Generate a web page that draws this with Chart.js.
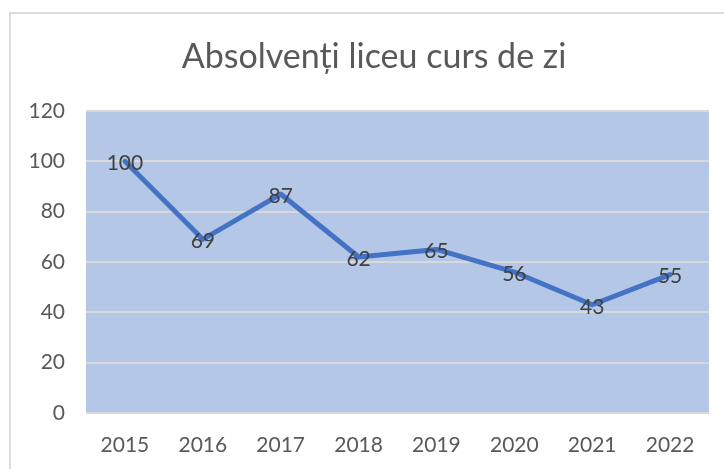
<!DOCTYPE html>
<html><head><meta charset="utf-8">
<script src="https://cdn.jsdelivr.net/npm/chart.js@4.4.0/dist/chart.umd.min.js"></script>
<style>
html,body{margin:0;padding:0;background:#fff;}
#wrap{position:relative;width:724px;height:469px;overflow:hidden;}
#frame{position:absolute;left:9px;top:12px;width:800px;height:600px;border:2px solid #DCDCDC;box-sizing:border-box;}
#c{position:absolute;left:0;top:0;}
</style></head>
<body><div id="wrap"><div id="frame"></div><canvas id="c" width="724" height="469"></canvas></div>
<script>
const categories = ['2015','2016','2017','2018','2019','2020','2021','2022'];
const values = [100, 69, 87, 62, 65, 56, 43, 55];
const yTicks = [0, 20, 40, 60, 80, 100, 120];
const titleText = 'Absolvenți liceu curs de zi';
const FONT = 'Lato, "Open Sans", sans-serif';

const plotBg = {
  id:'plotBg',
  beforeDraw(chart){
    const {ctx, chartArea:a} = chart;
    ctx.save(); ctx.fillStyle='#B4C7E7';
    ctx.fillRect(a.left, a.top, a.right-a.left, a.bottom-a.top);
    ctx.restore();
  }
};
const titlePlugin = {
  id:'titleText',
  afterDraw(chart){
    const {ctx} = chart;
    ctx.save();
    ctx.font = '34px ' + FONT;
    ctx.fillStyle = '#595959';
    ctx.textAlign='center'; ctx.textBaseline='middle';
    ctx.fillText(titleText, 374, 57);
    ctx.restore();
  }
};
const labelsPlugin = {
  id:'valLabels',
  afterDatasetsDraw(chart){
    const {ctx} = chart;
    const meta = chart.getDatasetMeta(0);
    ctx.save();
    ctx.font = '21px ' + FONT;
    ctx.fillStyle = '#404040';
    ctx.textAlign='center'; ctx.textBaseline='middle';
    meta.data.forEach((p,i)=>{ ctx.fillText(String(values[i]), p.x, p.y+2); });
    ctx.restore();
  }
};
new Chart(document.getElementById('c'), {
  type:'line',
  data:{labels:categories, datasets:[{data:values, borderColor:'#4472C4', borderWidth:5, pointRadius:0, tension:0, fill:false, borderCapStyle:'round', borderJoinStyle:'round'}]},
  options:{
    responsive:false, animation:false,
    layout:{padding:{left:0,right:15,top:111,bottom:0}},
    plugins:{ legend:{display:false}, tooltip:{enabled:false}, title:{display:false} },
    scales:{
      x:{offset:true, grid:{display:false}, border:{display:false},
         ticks:{color:'#595959', font:{family:FONT, size:21}, padding:12, maxRotation:0},
         afterFit(s){ s.height = 56; }},
      y:{min:0, max:120, grid:{color:'#D9D9D9', lineWidth:2, drawTicks:false}, border:{display:false},
         afterBuildTicks(s){ s.ticks = yTicks.map(v=>({value:v})); },
         ticks:{color:'#595959', font:{family:FONT, size:21}, padding:21},
         afterFit(s){ s.width = 86; }}
    }
  },
  plugins:[plotBg, titlePlugin, labelsPlugin]
});
</script></body></html>
